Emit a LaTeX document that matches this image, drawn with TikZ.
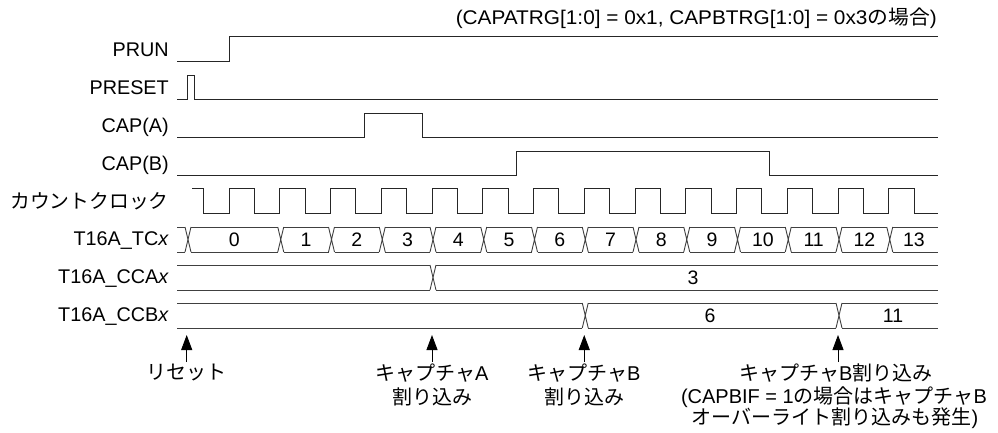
\documentclass[tikz,border=0pt]{standalone}
\usepackage{fontspec}
\setmainfont{Liberation Sans}
\newfontfamily\jp{Noto Sans CJK JP}
\usetikzlibrary{arrows.meta}
\begin{document}
\begin{tikzpicture}[x=1pt,y=-1pt,
  sig/.style={line width=0.9pt, draw=black!85},
  bus/.style={line width=0.9pt, draw=black!75},
  lbl/.style={anchor=base east, inner sep=0pt, font=\fontsize{19.8}{23}\selectfont},
  num/.style={inner sep=0pt, font=\fontsize{19.5}{22}\selectfont},
  note/.style={inner sep=0pt, font=\fontsize{20}{24}\selectfont},
  arr/.style={-{Triangle[length=15pt,width=11pt]}, line width=0.9pt, draw=black}]
\useasboundingbox (0,0) rectangle (998,433);

% title
\node[lbl, anchor=east] (title) at (937,18) {\scalebox{1.05}[1]{(CAPATRG[1:0] = 0x1, CAPBTRG[1:0] = 0x3{\jp の場合})}};

% labels
\node[lbl] (lprun) at (169,56.5) {PRUN};
\node[lbl] (lpreset) at (169,94.5) {PRESET};
\node[lbl] (lcapa) at (169,132.5) {CAP(A)};
\node[lbl] (lcapb) at (169,170.5) {CAP(B)};
\node[lbl, anchor=east] (lclk) at (169,201) {\jp カウントクロック};
\node[lbl] (ltc) at (169,245.5) {T16A\_TC\textit{x}};
\node[lbl] (lcca) at (169,283.5) {T16A\_CCA\textit{x}};
\node[lbl] (lccb) at (169,321.5) {T16A\_CCB\textit{x}};

% simple signals
\draw[sig] (177,61) -- (229,61) -- (229,36) -- (938,36);
\draw[sig] (177,99) -- (187,99) -- (187,75) -- (194,75) -- (194,99) -- (938,99);
\draw[sig] (177,137) -- (364,137) -- (364,113) -- (422,113) -- (422,137) -- (938,137);
\draw[sig] (177,175) -- (516,175) -- (516,151) -- (769,151) -- (769,175) -- (938,175);

% clock
\draw[sig] (192,188) -- (203.6,188) -- (203.6,213)
  \foreach \k in {0,...,13}{ -- ({229+50.75*\k},213) -- ({229+50.75*\k},188)
     -- ({254.4+50.75*\k},188) -- ({254.4+50.75*\k},213)} -- (938,213);

% T16A_TCx bus
\draw[bus] (177,227) -- (185,227) (177,252) -- (185,252);
\foreach \a/\b/\v in {188/280.75/0, 280.75/331.5/1, 331.5/382.25/2, 382.25/433/3,
   433/483.75/4, 483.75/534.5/5, 534.5/585.25/6, 585.25/636/7, 636/686.75/8,
   686.75/737.5/9, 737.5/788.25/10, 788.25/839/11, 839/889.75/12, 889.75/941/13}{
  \draw[bus] ({\a-3},227) -- ({\a+3},252) ({\a-3},252) -- ({\a+3},227);
  \draw[bus] ({\a+3},227) -- ({\b-3},227) ({\a+3},252) -- ({\b-3},252);
  \node[num] at ({(\a+min(\b,938))/2},239.5) {\v};
}

% T16A_CCAx bus
\draw[bus] (177,265) -- (430,265) (177,290) -- (430,290);
\draw[bus] (430,265) -- (436,290) (430,290) -- (436,265);
\draw[bus] (436,265) -- (938,265) (436,290) -- (938,290);
\node[num] (vcca) at (693,277.5) {3};

% T16A_CCBx bus
\draw[bus] (177,303) -- (582.25,303) (177,328) -- (582.25,328);
\draw[bus] (582.25,303) -- (588.25,328) (582.25,328) -- (588.25,303);
\draw[bus] (588.25,303) -- (836,303) (588.25,328) -- (836,328);
\draw[bus] (836,303) -- (842,328) (836,328) -- (842,303);
\draw[bus] (842,303) -- (938,303) (842,328) -- (938,328);
\node[num] (vccb1) at (710,315.5) {6};
\node[num] (vccb2) at (893,315.5) {11};

% arrows
\coordinate (a1s) at (186.7,362); \coordinate (a1e) at (186.7,335);
\coordinate (a2s) at (432,362);   \coordinate (a2e) at (432,335);
\coordinate (a3s) at (584.25,362);\coordinate (a3e) at (584.25,335);
\coordinate (a4s) at (838,362);   \coordinate (a4e) at (838,335);
\draw[arr] (a1s) -- (a1e);
\draw[arr] (a2s) -- (a2e);
\draw[arr] (a3s) -- (a3e);
\draw[arr] (a4s) -- (a4e);

% notes
\node[note] (n1) at (186.7,373) {\jp リセット};
\node[note] (n2a) at (432,373) {{\jp キャプチャ}A};
\node[note] (n2b) at (432,397) {\jp 割り込み};
\node[note] (n3a) at (584,373) {{\jp キャプチャ}B};
\node[note] (n3b) at (584,397) {\jp 割り込み};
\node[note] (n4a) at (836,373) {{\jp キャプチャ}B{\jp 割り込み}};
\node[note] (n4b) at (834,397) {(CAPBIF = 1{\jp の場合はキャプチャ}B};
\node[note] (n4c) at (835,418) {{\jp オーバーライト割り込みも発生})};
\end{tikzpicture}
\end{document}
